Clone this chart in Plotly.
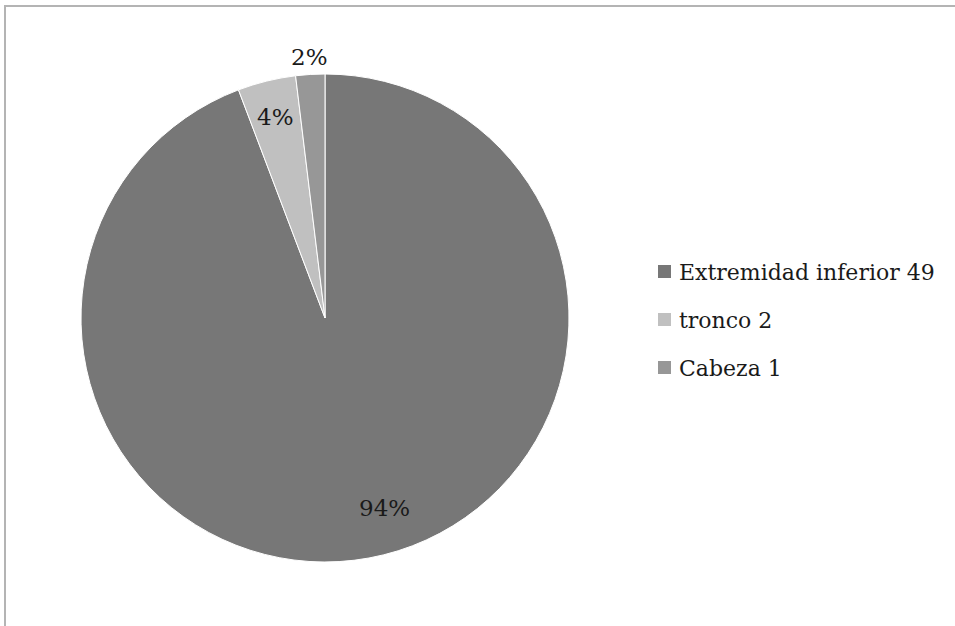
import math
import plotly.graph_objects as go

# Injury location counts
categories = ["Extremidad inferior", "tronco", "Cabeza"]
counts = [49, 2, 1]
colors = ["#777777", "#c0c0c0", "#979797"]

# Percentage label placement: radius as a fraction of the pie radius,
# and an angular nudge (degrees) from the slice's mid-angle
label_radius = [0.817, 0.85, 1.072]
label_angle_shift = [-7.0, 0.0, 0.0]

W, H = 955, 626
FONT = "DejaVu Serif"
CX, CY, R = 325, 318, 244  # pie centre and radius in pixels

fig = go.Figure(
    go.Pie(
        labels=categories,
        values=counts,
        sort=False,
        direction="clockwise",
        rotation=0,
        marker=dict(colors=colors, line=dict(color="white", width=1)),
        textinfo="none",
        showlegend=False,
        hoverinfo="label+value+percent",
        domain=dict(x=[(CX - R) / W, (CX + R) / W],
                    y=[1 - (CY + R) / H, 1 - (CY - R) / H]),
    )
)

shapes = [
    dict(type="rect", xref="paper", yref="paper",
         x0=5 / W, x1=1.05, y0=-0.05, y1=1 - 6 / H,
         line=dict(color="#b4b4b4", width=2), fillcolor="rgba(0,0,0,0)")
]
annotations = []

# Percentage labels placed around each slice's mid-angle
total = sum(counts)
cum = 0
for n, rf, shift in zip(counts, label_radius, label_angle_shift):
    frac = n / total
    mid = 360 * (cum + frac / 2) + shift  # clockwise from 12 o'clock
    cum += frac
    px = CX + rf * R * math.sin(math.radians(mid))
    py = CY - rf * R * math.cos(math.radians(mid))
    annotations.append(dict(xref="paper", yref="paper",
                            x=px / W, y=1 - py / H,
                            xanchor="center", yanchor="middle",
                            text=f"{round(100 * frac)}%", showarrow=False,
                            font=dict(family=FONT, size=23, color="#1a1a1a")))

# Legend drawn as swatches and text to the right of the pie
for i, (cat, n, col) in enumerate(zip(categories, counts, colors)):
    yc = 271.5 + 48 * i
    shapes.append(dict(type="rect", xref="paper", yref="paper",
                       x0=658 / W, x1=671 / W,
                       y0=1 - (yc + 6.5) / H, y1=1 - (yc - 6.5) / H,
                       line=dict(width=0), fillcolor=col))
    annotations.append(dict(xref="paper", yref="paper",
                            x=677 / W, y=1 - (yc + 1) / H,
                            xanchor="left", yanchor="middle",
                            text=f"{cat} {n}", showarrow=False,
                            font=dict(family=FONT, size=22, color="#1a1a1a")))

fig.update_layout(
    width=W, height=H,
    margin=dict(l=0, r=0, t=0, b=0),
    paper_bgcolor="white",
    plot_bgcolor="white",
    shapes=shapes,
    annotations=annotations,
)

fig.write_html("out.html")
